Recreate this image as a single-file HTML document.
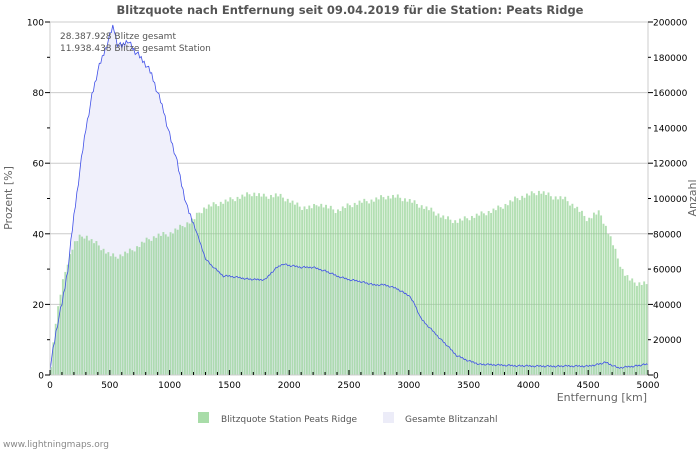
<!DOCTYPE html>
<html><head><meta charset="utf-8"><style>
body{margin:0;background:#fff;width:700px;height:450px;overflow:hidden;font-family:"Liberation Sans","DejaVu Sans",sans-serif}
</style></head><body>
<svg id="s" width="700" height="450" xmlns="http://www.w3.org/2000/svg" font-family="DejaVu Sans, Liberation Sans, sans-serif">
<rect width="700" height="450" fill="#fff"/>
<text x="350" y="14" text-anchor="middle" font-size="11.5" font-weight="bold" fill="#555">Blitzquote nach Entfernung seit 09.04.2019 für die Station: Peats Ridge</text>
<g id="grid"></g>
<path id="blueArea" fill="#f0f0fb" stroke="none"/>
<g id="bars"></g>
<path id="blueLine" fill="none" stroke="#4050e8" stroke-width="0.8"/>
<g id="axes"></g>
<text x="60" y="39" font-size="9" fill="#555">28.387.928 Blitze gesamt</text>
<text x="60" y="51" font-size="9" fill="#555">11.938.438 Blitze gesamt Station</text>
<text x="647" y="401" text-anchor="end" font-size="11" fill="#666">Entfernung   [km]</text>
<text transform="translate(12,198) rotate(-90)" text-anchor="middle" font-size="11" fill="#666">Prozent   [%]</text>
<text transform="translate(696,198) rotate(-90)" text-anchor="middle" font-size="11" fill="#666">Anzahl</text>
<rect x="198" y="412" width="11" height="11" fill="#a8dca8"/>
<text x="221" y="422" font-size="9" fill="#555">Blitzquote Station Peats Ridge</text>
<rect x="383" y="412" width="11" height="11" fill="#ececf8"/>
<text x="405" y="422" font-size="9" fill="#555">Gesamte Blitzanzahl</text>
<text x="3" y="447" font-size="9" fill="#888">www.lightningmaps.org</text>
</svg>
<script>
var X0=50,X1=648,Y0=375,Y1=22;
function px(k){return X0+(X1-X0)*k/5000}
function py(p){return Y0-(Y0-Y1)*p/100}
function interp(d,k){for(var i=0;i<d.length-1;i++){if(k<=d[i+1][0]){var a=d[i],b=d[i+1];return a[1]+(b[1]-a[1])*(k-a[0])/(b[0]-a[0]);}}return d[d.length-1][1];}
var G=[[0,0],[50,15],[100,25],[150,32],[200,37],[250,39],[300,39.5],[350,38],[400,37],[450,35.5],[500,34],[550,33.5],[600,34],[700,35.5],[800,38],[900,39.5],[1000,40],[1100,42],[1200,44],[1250,46],[1300,47.5],[1400,48.5],[1500,49.5],[1600,50.5],[1700,51.5],[1800,50.5],[1900,51],[2000,49.5],[2100,47.5],[2200,47.5],[2250,48.5],[2400,46.5],[2500,48],[2600,49],[2700,49.5],[2800,50.5],[2900,50.5],[3000,49.5],[3100,48],[3200,46.5],[3300,44.5],[3400,43.5],[3500,44.5],[3600,45.5],[3700,46.5],[3800,48],[3900,50],[4000,51],[4100,52],[4200,50.5],[4300,50],[4400,47.5],[4500,44],[4550,45.5],[4600,46],[4650,42],[4700,38],[4750,33],[4800,29],[4850,27],[4900,26],[5000,26]];
var B=[[0,2],[30,8],[60,14],[100,20],[150,30],[200,45],[250,58],[300,70],[350,79],[400,86],[450,91],[500,96],[530,99],[560,94],[600,93],[650,95],[700,92],[750,90],[800,88],[850,85],[900,80],[950,75],[1000,68],[1050,62],[1100,54],[1150,47],[1200,43],[1250,38],[1300,33],[1350,31],[1400,29.5],[1450,28],[1500,28],[1600,27.5],[1700,27],[1800,27],[1850,29],[1900,30.5],[1950,31.5],[2000,31],[2100,30.5],[2200,30.5],[2300,29.5],[2400,28],[2500,27],[2600,26.5],[2700,25.5],[2800,25.5],[2900,24.5],[3000,22.5],[3050,20],[3100,16],[3200,12.5],[3300,9],[3400,5.5],[3500,4],[3600,3],[4000,2.5],[4500,2.5],[4650,3.5],[4750,2],[5000,3]];
var ns="http://www.w3.org/2000/svg";
function el(t,a,p){var e=document.createElementNS(ns,t);for(var k in a)e.setAttribute(k,a[k]);document.getElementById(p).appendChild(e);return e;}
for(var p=20;p<=100;p+=20)el('line',{x1:X0,x2:X1,y1:py(p),y2:py(p),stroke:'#ccc','stroke-width':1},'grid');
var d='M'+X0+','+Y0,dl='';
for(var k=0;k<=5000;k+=12.5){var v=interp(B,k)+((k*7919)%13-6)*0.08*(k<1200?2:0.6);if(v<0)v=0;var s=px(k).toFixed(1)+','+py(v).toFixed(1);d+='L'+s;dl+=(dl?'L':'M')+s;}
d+='L'+X1+','+Y0+'Z';
document.getElementById('blueArea').setAttribute('d',d);
document.getElementById('blueLine').setAttribute('d',dl);
for(var k=0;k<5000;k+=20){var v=interp(G,k+10)+((k*31)%7-3)*0.25;if(v<0)v=0;var x=px(k),w=px(k+20)-x;el('rect',{x:x.toFixed(2),y:py(v).toFixed(2),width:(w-0.5).toFixed(2),height:(Y0-py(v)).toFixed(2),fill:'#8ed08e','fill-opacity':0.68},'bars');}
el('line',{x1:X0,x2:X0,y1:Y1,y2:Y0,stroke:'#ccc'},'axes');
el('line',{x1:X1,x2:X1,y1:Y1,y2:Y0,stroke:'#ccc'},'axes');
el('line',{x1:X0,x2:X1,y1:Y0,y2:Y0,stroke:'#ccc'},'axes');
for(var p=0;p<=100;p+=10){var y=py(p);el('line',{x1:X0-(p%20?3:5),x2:X0,y1:y,y2:y,stroke:'#000'},'axes');el('line',{x1:X1,x2:X1+(p%20?3:5),y1:y,y2:y,stroke:'#000'},'axes');
var t2=el('text',{x:653,y:y+3.5,'font-size':9,fill:'#000'},'axes');t2.textContent=p*2000;
if(p%20==0){var t=el('text',{x:44,y:y+3.5,'text-anchor':'end','font-size':9,fill:'#000'},'axes');t.textContent=p;}}
for(var k=0;k<=5000;k+=100){var x=px(k);el('line',{x1:x,x2:x,y1:Y0,y2:Y0-(k%500?3:5),stroke:'#000'},'axes');if(k%500==0){var t=el('text',{x:x,y:388,'text-anchor':'middle','font-size':9,fill:'#000'},'axes');t.textContent=k;}}
</script>
</body></html>
